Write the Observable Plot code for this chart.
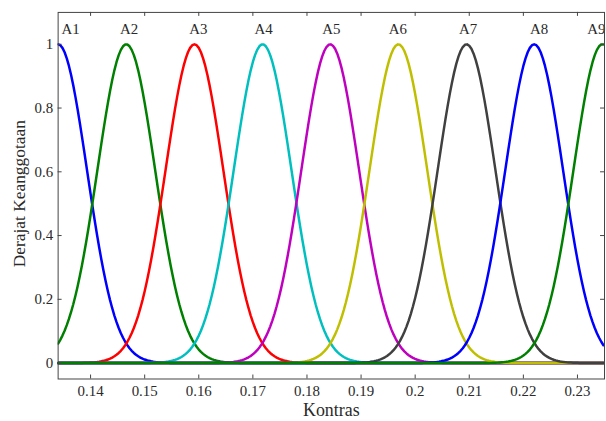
<!DOCTYPE html>
<html>
<head>
<meta charset="utf-8">
<script src="https://cdn.jsdelivr.net/npm/d3@7"></script>
<script src="https://cdn.jsdelivr.net/npm/@observablehq/plot@0.6"></script>
<style>
  html, body { margin: 0; padding: 0; background: #fff; overflow: hidden; }
  #chart svg { display: block; }
</style>
</head>
<body>
<div id="chart"></div>
<script>
// Membership function names, centers and spread (Gaussian MFs)
const names   = ["A1", "A2", "A3", "A4", "A5", "A6", "A7", "A8", "A9"];
const centers = [0.1340, 0.1466, 0.1592, 0.1718, 0.1843, 0.1969, 0.2095, 0.2220, 0.2346];
const sigmas  = [0.00533, 0.00533, 0.00533, 0.00533, 0.00533, 0.00533, 0.00533, 0.00533, 0.00533];
const colors  = ["#0000ff", "#008000", "#ff0000", "#00bfbf", "#bf00bf", "#bfbf00", "#404040", "#0000ff", "#008000"];
// label positions (x)
const labelX  = [0.1363, 0.1471, 0.1599, 0.1720, 0.1845, 0.1968, 0.2098, 0.2229, 0.2335];
const labelY  = 1.048;
// axes
const xDomain = [0.134, 0.235];
const yDomain = [-0.05, 1.1];
const xTicks  = [0.14, 0.15, 0.16, 0.17, 0.18, 0.19, 0.2, 0.21, 0.22, 0.23];
const yTicks  = [0, 0.2, 0.4, 0.6, 0.8, 1];
const xLabel  = "Kontras";
const yLabel  = "Derajat Keanggotaan";

// evaluate each Gaussian membership function over the universe
const xs = d3.range(xDomain[0], xDomain[1] + 1e-9, 0.0004);
const curves = names.map((n, i) => xs.map(x => ({
  name: n,
  x,
  y: Math.exp(-((x - centers[i]) ** 2) / (2 * sigmas[i] ** 2))
})));
const labels = names.map((n, i) => ({name: n, x: labelX[i], y: labelY}));

const W = 610, H = 421;
const mL = 58, mR = 2, mT = 12, mB = 40;
const innerW = W - mL - mR, innerH = H - mT - mB;
const tickLen = 4;
const axisColor = "#444";
const textColor = "#2a2a2a";

const chart = Plot.plot({
  width: W,
  height: H,
  marginLeft: mL,
  marginRight: mR,
  marginTop: mT,
  marginBottom: mB,
  style: {fontFamily: "'Liberation Serif', 'DejaVu Serif', serif", fontSize: "15px", color: textColor, background: "#fff"},
  x: {domain: xDomain},
  y: {domain: yDomain},
  marks: [
    ...curves.map((c, i) => Plot.line(c, {x: "x", y: "y", stroke: colors[i], strokeWidth: 2.5, clip: true})),
    Plot.text(labels, {x: "x", y: "y", text: "name", fontSize: 15, fill: textColor}),
    // inward ticks on all four sides
    Plot.ruleX(xTicks, {insetTop: innerH - tickLen, stroke: axisColor}),
    Plot.ruleX(xTicks, {insetBottom: innerH - tickLen, stroke: axisColor}),
    Plot.ruleY(yTicks, {insetRight: innerW - tickLen, stroke: axisColor}),
    Plot.ruleY(yTicks, {insetLeft: innerW - tickLen, stroke: axisColor}),
    Plot.frame({stroke: axisColor}),
    Plot.axisX(xTicks, {tickSize: 0, tickPadding: 6, fontSize: 15, fill: textColor, tickFormat: d => String(d), label: null}),
    Plot.axisY(yTicks, {tickSize: 0, tickPadding: 5, fontSize: 15, fill: textColor, tickFormat: d => String(d), label: null}),
    Plot.text([xLabel], {frameAnchor: "bottom", dy: 31, fontSize: 18, fill: textColor, textAnchor: "middle", lineAnchor: "middle"}),
    Plot.text([yLabel], {frameAnchor: "left", dx: -39, dy: -2, rotate: -90, fontSize: 17.5, fill: textColor, textAnchor: "middle", lineAnchor: "middle"})
  ]
});
document.getElementById("chart").appendChild(chart);
</script>
</body>
</html>
